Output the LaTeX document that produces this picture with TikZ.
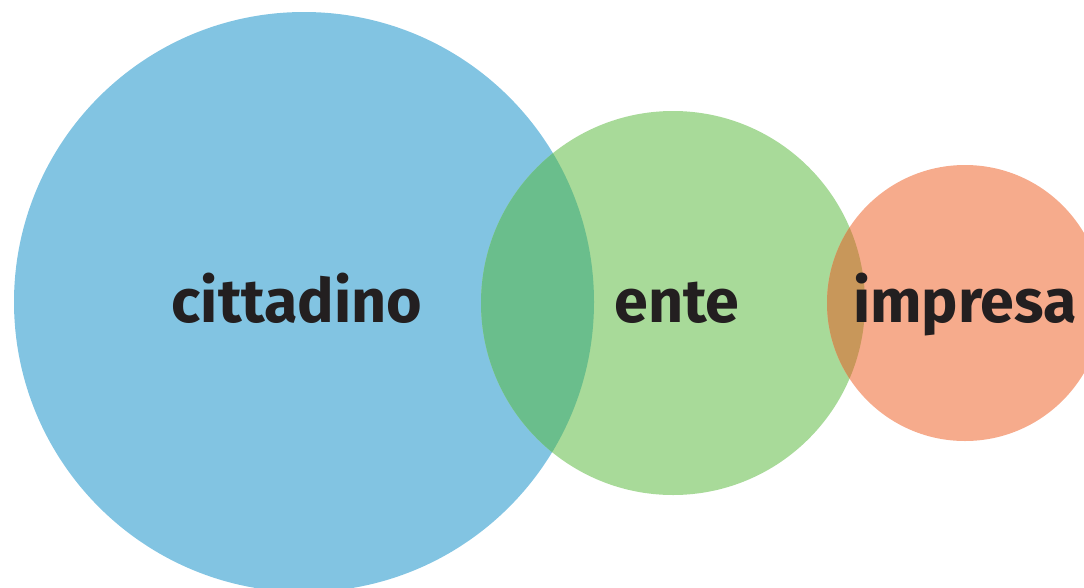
\documentclass[tikz,border=0pt]{standalone}
\usepackage{fontspec}
\setmainfont{Fira Sans}[Ligatures=NoCommon]
\definecolor{cblue}{HTML}{82C4E2}
\definecolor{cgreen}{HTML}{A8DA99}
\definecolor{corange}{HTML}{F6AB8C}
\definecolor{cbg}{HTML}{6ABE8C}
\definecolor{cgo}{HTML}{C8975A}
\definecolor{ctext}{HTML}{231F20}
\tikzset{lbl/.style={text=ctext,font=\fontsize{61}{61}\selectfont\bfseries,anchor=base,inner sep=0pt}}
\begin{document}
\begin{tikzpicture}[x=1pt,y=-1pt]
\useasboundingbox (0,0) rectangle (1084,587);
\begin{scope}
\clip (0,0) rectangle (1084,587);
\fill[cblue] (304,302) circle (290);
\fill[cgreen] (673,303) circle (192);
\fill[corange] (965,303) circle (138);
\begin{scope}
\clip (304,302) circle (290);
\fill[cbg] (673,303) circle (192);
\end{scope}
\begin{scope}
\clip (673,303) circle (192);
\fill[cgo] (965,303) circle (138);
\end{scope}
\end{scope}
\node[lbl] (cit) at (297,322) {cittadino};
\node[lbl] (ent) at (677,322) {ente};
\node[lbl] (imp) at (965,322) {impresa};
\end{tikzpicture}
\end{document}
